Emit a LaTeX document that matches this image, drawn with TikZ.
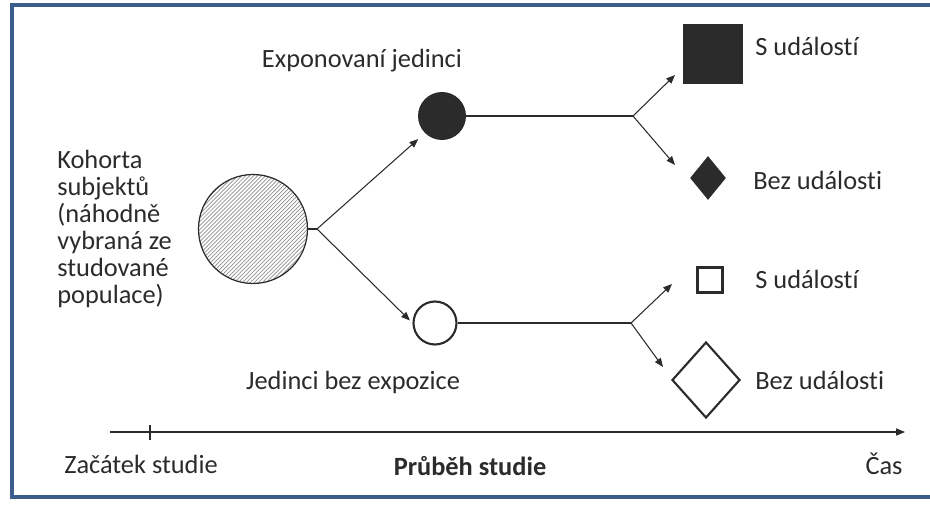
\documentclass[tikz,border=0pt]{standalone}
\usepackage{fontspec}
\setmainfont{Carlito}[Ligatures=NoCommon]
\usetikzlibrary{arrows.meta, shapes.geometric, patterns.meta, positioning}
\definecolor{framecol}{RGB}{59,94,140}
\definecolor{darkfill}{RGB}{43,43,43}

\begin{document}
\begin{tikzpicture}[
    lbl/.style={font=\fontsize{15}{15.4}\selectfont, text=darkfill, inner sep=0pt},
    arr/.style={-{Triangle[length=5pt,width=4pt]}, line width=0.6pt, draw=darkfill},
    ln/.style={line width=0.6pt, draw=darkfill}
]
    \useasboundingbox (0,0) rectangle (18.6,10.1);
    % Draw the frame
    \draw[framecol, line width=2.3pt] (18.6,10.0) -- (0.24,10.0) -- (0.24,0.16) -- (18.6,0.16);

    % Draw cohort and groups as nodes
    \node[circle, draw=darkfill, line width=0.7pt, pattern={Lines[angle=45,distance=1.6pt,line width=0.4pt]}, pattern color=gray!90, minimum size=2.18cm, inner sep=0] (cohort) at (5.06,5.52) {};
    \node[circle, fill=darkfill, minimum size=0.96cm, inner sep=0] (exposed) at (8.84,7.78) {};
    \node[circle, draw=darkfill, line width=1.2pt, minimum size=0.86cm, inner sep=0] (unexposed) at (8.70,3.64) {};

    % Draw outcomes as nodes
    \node[rectangle, fill=darkfill, minimum size=1.2cm, inner sep=0] (eventA) at (14.26,9.02) {};
    \node[diamond, fill=darkfill, minimum width=0.72cm, minimum height=0.88cm, inner sep=0] (noeventA) at (14.16,6.54) {};
    \node[rectangle, draw=darkfill, line width=1.5pt, minimum size=0.5cm, inner sep=0] (eventB) at (14.2,4.5) {};
    \node[diamond, draw=darkfill, line width=1.2pt, minimum width=1.36cm, minimum height=1.52cm, inner sep=0] (noeventB) at (14.12,2.5) {};

    % Branching points and arrow ends
    \coordinate (branch) at (6.34,5.52);
    \coordinate (forkA) at (12.66,7.78);
    \coordinate (forkB) at (12.62,3.64);
    \coordinate (tipA1) at (13.5,8.6);
    \coordinate (tipA2) at (13.5,6.8);
    \coordinate (tipB1) at (13.44,4.42);
    \coordinate (tipB2) at (13.26,2.76);

    % Draw arrows connecting nodes
    \draw[ln] (cohort.east) -- (branch);
    \draw[arr, shorten >=5pt] (branch) -- (exposed.south west);
    \draw[arr, shorten >=2pt] (branch) -- (unexposed.west);
    \draw[ln] (exposed) -- (forkA);
    \draw[ln] (unexposed) -- (forkB);
    \draw[arr] (forkA) -- (tipA1);
    \draw[arr] (forkA) -- (tipA2);
    \draw[arr] (forkB) -- (tipB1);
    \draw[arr] (forkB) -- (tipB2);

    % Add descriptive text
    \node[lbl, anchor=west, align=left] (cohorttext) at (1.14,5.52) {Kohorta\\subjektů\\(náhodně\\vybraná ze\\studované\\populace)};
    \node[lbl] (exptext) at (7.24,8.88) {Exponovaní jedinci};
    \node[lbl] (unexptext) at (7.06,2.46) {Jedinci bez expozice};
    \node[lbl, anchor=west] (evtextA) at (15.1,9.18) {S událostí};
    \node[lbl, anchor=west] (noevtextA) at (15.06,6.5) {Bez události};
    \node[lbl, anchor=west] (evtextB) at (15.1,4.52) {S událostí};
    \node[lbl, anchor=west] (noevtextB) at (15.1,2.5) {Bez události};

    % Draw the time axis
    \coordinate (axstart) at (2.2,1.46);
    \coordinate (axend) at (18.1,1.46);
    \draw[arr] (axstart) -- (axend);
    \draw[ln] (3.0,1.6) -- (3.0,1.3);
    \node[lbl] (starttext) at (2.82,0.82) {Začátek studie};
    \node[lbl, font=\fontsize{15}{15.4}\selectfont\bfseries] (coursetext) at (9.4,0.78) {Průběh studie};
    \node[lbl] (timetext) at (17.68,0.82) {Čas};
\end{tikzpicture}
\end{document}
